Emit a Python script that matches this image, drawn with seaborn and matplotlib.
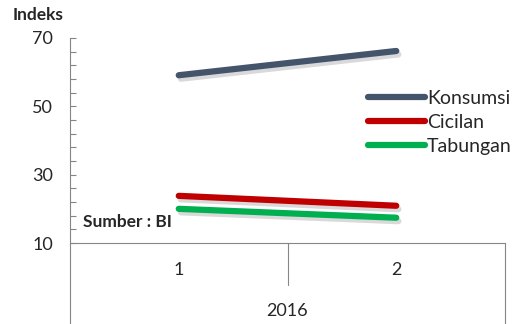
import pandas as pd
import seaborn as sns
import matplotlib.pyplot as plt
import matplotlib.patheffects as pe
from matplotlib.ticker import FixedLocator
from matplotlib.lines import Line2D

# data
periods = ["1", "2"]
year_label = "2016"
konsumsi = [59.1, 66.2]
cicilan = [23.8, 20.9]
tabungan = [20.0, 17.4]
series_names = ["Konsumsi", "Cicilan", "Tabungan"]
colors = ["#44546A", "#C00000", "#00B050"]
major_ticks = [10, 30, 50, 70]
minor_ticks = list(range(10, 71, 4))

rows = []
for name, vals in zip(series_names, [konsumsi, cicilan, tabungan]):
    for i, v in enumerate(vals):
        rows.append({"pos": i, "periode": periods[i], "seri": name, "nilai": v})
df = pd.DataFrame(rows)

sns.set_style("white")
plt.rcParams["font.family"] = ["Lato", "DejaVu Sans"]

fig = plt.figure(figsize=(5.19, 3.24), dpi=100)
ax = fig.add_axes([70 / 519, 1 - 243 / 324, 435 / 519, 205 / 324])

sns.lineplot(data=df, x="pos", y="nilai", hue="seri", palette=colors,
             hue_order=series_names, linewidth=4.5, ax=ax, legend=False)
for ln in ax.get_lines():
    ln.set_solid_capstyle("round")
    ln.set_path_effects([pe.SimpleLineShadow(offset=(1.5, -2.5), alpha=0.15, shadow_color="black"),
                         pe.Normal()])

ax.set_xlim(-0.5, 1.5)
ax.set_ylim(10, 70)
ax.yaxis.set_major_locator(FixedLocator(major_ticks))
ax.yaxis.set_minor_locator(FixedLocator(minor_ticks))
ax.tick_params(axis="y", which="both", left=True, direction="in", length=4, width=0.8,
               color="#868686", labelsize=13, pad=12)
ax.set_xticks([])
ax.set_xlabel("")
ax.set_ylabel("")

for s in ["top", "right"]:
    ax.spines[s].set_visible(False)
for s in ["left", "bottom"]:
    ax.spines[s].set_color("#868686")
    ax.spines[s].set_linewidth(0.8)

# multi-level category axis
gray = "#868686"
tr = ax.transAxes
ax.plot([0, 0], [0, -0.40], color=gray, lw=0.8, transform=tr, clip_on=False)
ax.plot([0.5, 0.5], [0, -0.205], color=gray, lw=0.8, transform=tr, clip_on=False)
ax.plot([1, 1], [0, -0.40], color=gray, lw=0.8, transform=tr, clip_on=False)
for i, p in enumerate(periods):
    ax.text(0.25 + 0.5 * i, -0.13, p, transform=tr, ha="center", va="center", fontsize=13)
ax.text(0.5, -0.33, year_label, transform=tr, ha="center", va="center", fontsize=13)

fig.text(13 / 519, 1 - 15 / 324, "Indeks", fontsize=12.5, fontweight="bold", va="center", ha="left")
fig.text(83 / 519, 1 - 222 / 324, "Sumber : BI", fontsize=12.5, fontweight="bold",
         va="center", ha="left")

handles = [Line2D([0], [0], color=c, lw=4.5, solid_capstyle="round") for c in colors]
ax.legend(handles, series_names, loc="upper left", bbox_to_anchor=(0.686, 0.745),
          frameon=False, fontsize=14, handlelength=2.9, handletextpad=0.12,
          labelspacing=0.35, borderpad=0, borderaxespad=0)

fig.savefig("out.png", dpi=100)
